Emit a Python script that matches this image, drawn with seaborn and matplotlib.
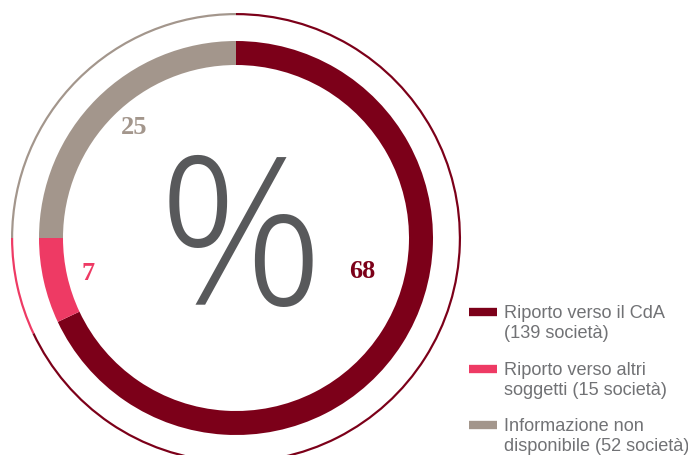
import matplotlib
matplotlib.use("Agg")
import matplotlib.pyplot as plt
import seaborn as sns

# Share of companies by reporting line (%)
categories = ["Riporto verso il CdA", "Riporto verso altri soggetti", "Informazione non disponibile"]
shares = [68, 7, 25]
companies = [139, 15, 52]
legend_labels = [
    "Riporto verso il CdA\n(139 società)",
    "Riporto verso altri\nsoggetti (15 società)",
    "Informazione non\ndisponibile (52 società)",
]
colors = ["#7c0019", "#ee3a64", "#a3968c"]

sns.set_theme(style="white")
plt.rcParams["font.family"] = ["Liberation Sans", "DejaVu Sans"]
palette = sns.color_palette(colors)

W, H = 688, 455
fig = plt.figure(figsize=(W / 100, H / 100), dpi=100)
ax = fig.add_axes([0, 0, 1, 1])

cx, cy = 236, H - 238

# thin outer ring
ax.pie(shares, colors=palette, startangle=90, counterclock=False,
       radius=225, center=(cx, cy), frame=True,
       wedgeprops=dict(width=2.2, linewidth=0))
# thick inner ring
ax.pie(shares, colors=palette, startangle=90, counterclock=False,
       radius=197, center=(cx, cy), frame=True,
       wedgeprops=dict(width=24, linewidth=0))

ax.set_xlim(0, W)
ax.set_ylim(0, H)
ax.set_aspect("equal")
ax.axis("off")

# big percent sign in the middle
ax.text(cx + 5, H - 251, "%", fontsize=148, color="#58595b",
        ha="center", va="center", family=["Open Sans", "DejaVu Sans"],
        fontweight="light")

# value labels
serif = ["Liberation Serif", "DejaVu Serif"]
label_pos = [(362, 271), (88, 273), (134, 128)]
for (x, y), v, c in zip(label_pos, shares, colors):
    ax.text(x, H - y, f"{v}", fontsize=19, fontweight="bold", color=c,
            ha="center", va="center", family=serif)

# legend
swatch_y = [312, 369, 425]
for sy, lab, c in zip(swatch_y, legend_labels, colors):
    ax.plot([469, 497], [H - sy, H - sy], color=c, lw=6, solid_capstyle="butt")
    ax.text(504, H - sy + 7, lab, fontsize=13.1, color="#717275",
            ha="left", va="top", linespacing=1.22,
            family=["Liberation Sans", "DejaVu Sans"])

fig.savefig("out.png", dpi=100)
